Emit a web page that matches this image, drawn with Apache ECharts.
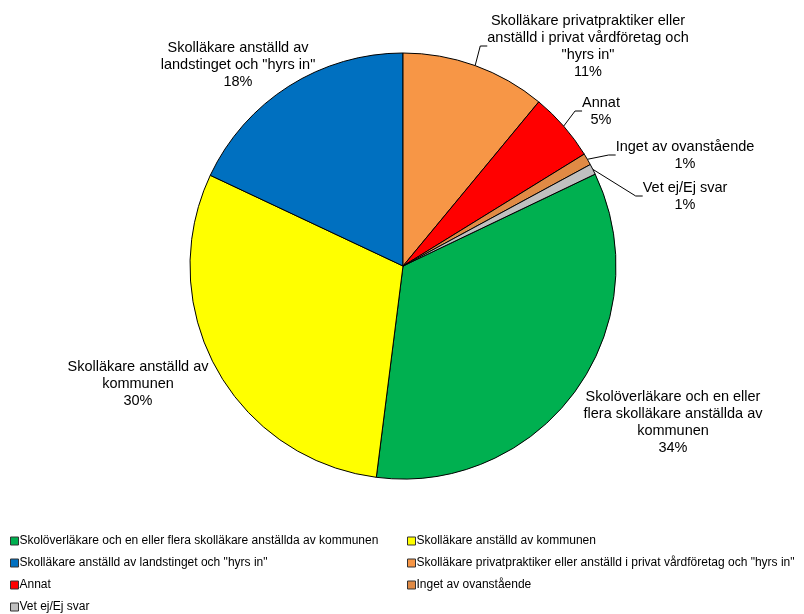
<!DOCTYPE html>
<html>
<head>
<meta charset="utf-8">
<script src="https://cdn.jsdelivr.net/npm/echarts@6/dist/echarts.min.js"></script>
<style>
html,body{margin:0;padding:0;background:#fff;}
#chart{width:804px;height:614px;}
</style>
</head>
<body>
<div id="chart"></div>
<script>
const categories = [
  'Skolöverläkare och en eller flera skolläkare anställda av kommunen',
  'Skolläkare anställd av kommunen',
  'Skolläkare anställd av landstinget och "hyrs in"',
  'Skolläkare privatpraktiker eller anställd i privat vårdföretag och "hyrs in"',
  'Annat',
  'Inget av ovanstående',
  'Vet ej/Ej svar'
];
const labelNames = [
  'Skolöverläkare och en eller\nflera skolläkare anställda av\nkommunen',
  'Skolläkare anställd av\nkommunen',
  'Skolläkare anställd av\nlandstinget och "hyrs in"',
  'Skolläkare privatpraktiker eller\nanställd i privat vårdföretag och\n"hyrs in"',
  'Annat',
  'Inget av ovanstående',
  'Vet ej/Ej svar'
];
const values = [34.1, 30.0, 18.0, 11.0, 5.2, 0.9, 0.8];
const colors = ['#00B050', '#FFFF00', '#0070C0', '#F79646', '#FF0000', '#E08A45', '#C0C0C0'];

const labelPos = [
  [673, 422], [138, 384], [238, 65], [588, 46], [601, 111], [685, 155], [685, 196]
];
const showLine = [false, false, false, true, true, true, true];

const chart = echarts.init(document.getElementById('chart'));
const font = "'Liberation Sans', Arial, sans-serif";

const legendText = { fontFamily: font, fontSize: 12, color: '#000', lineHeight: 12, padding: [0, 0, 0, -4] };

chart.setOption({
  animation: false,
  backgroundColor: '#fff',
  legend: [
    {
      orient: 'vertical', left: 5, top: 530, height: 90, itemWidth: 8, itemHeight: 8, itemGap: 10,
      icon: 'rect',
      data: [categories[0], categories[2], categories[4], categories[6]],
      textStyle: legendText,
      itemStyle: { borderColor: '#333', borderWidth: 1 }
    },
    {
      orient: 'vertical', left: 402, top: 530, height: 90, itemWidth: 8, itemHeight: 8, itemGap: 10,
      icon: 'rect',
      data: [categories[1], categories[3], categories[5]],
      textStyle: legendText,
      itemStyle: { borderColor: '#333', borderWidth: 1 }
    }
  ],
  series: [{
    type: 'pie',
    center: [403, 266],
    radius: 213,
    startAngle: 25.56,
    clockwise: true,
    avoidLabelOverlap: false,
    itemStyle: { borderColor: '#000', borderWidth: 1 },
    emphasis: { disabled: true },
    label: {
      show: true,
      position: 'outside',
      fontFamily: font,
      fontSize: 14.5,
      lineHeight: 17,
      color: '#000',
      align: 'center',
      formatter: p => labelNames[p.dataIndex] + '\n' + Math.round(p.value) + '%'
    },
    labelLine: { show: true, length: 10, length2: 7, lineStyle: { color: '#000', width: 1 } },
    labelLayout: function (params) {
      const pos = labelPos[params.dataIndex];
      return { x: pos[0], y: pos[1], align: 'center', verticalAlign: 'middle' };
    },
    data: categories.map((c, i) => ({
      name: c,
      value: values[i],
      itemStyle: { color: colors[i] },
      labelLine: { show: showLine[i] }
    }))
  }]
});
</script>
</body>
</html>
